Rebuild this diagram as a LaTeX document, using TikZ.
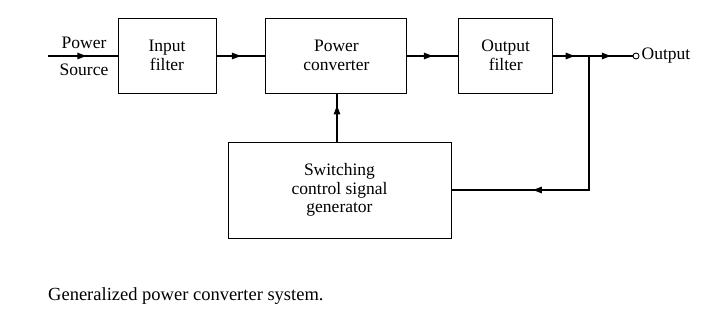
\documentclass[tikz,border=0pt]{standalone}
\usepackage{fontspec}
\setmainfont{Liberation Serif}
\usetikzlibrary{arrows.meta,positioning,calc,decorations.markings}

\begin{document}
\begin{tikzpicture}[
  x=1pt, y=-1pt,
  node distance=49pt,
  box/.style={rectangle, draw, line width=0.9pt, font=\fontsize{17.5}{18.5}\selectfont,
              inner sep=0pt, minimum height=75pt, align=center},
  sig/.style={line width=1.3pt, postaction={decorate}, decoration={markings,
              mark=at position #1 with {\arrow{Triangle[length=9pt,width=6.5pt]}}}},
  sig/.default=0.5,
  lbl/.style={font=\fontsize{17.5}{18.5}\selectfont, inner sep=0pt}
]
  \useasboundingbox (0,0) rectangle (720,318);
  \node[box, minimum width=98pt] (inf) at (167,55.5) {Input\\filter};
  \node[box, minimum width=141pt, right=49pt of inf] (conv) {Power\\converter};
  \node[box, minimum width=94pt, right=51pt of conv] (outf) {Output\\filter};
  \node[box, minimum width=223pt, minimum height=96pt] (gen) at (339.5,190)
        {Switching\\control signal\\generator};
  \coordinate (src) at (48,56);
  \coordinate (jn) at (589,56);
  \node[draw, circle, line width=0.9pt, inner sep=0pt, minimum size=6pt] (term) at (636,56) {};
  \node[lbl, right=2pt of term] (out) {Output};
  \node[lbl] (pw) at (84,43) {Power};
  \node[lbl] (srcl) at (84,70) {Source};
  \draw[sig=0.55] (src) -- (inf.west |- src);
  \draw[sig] (inf.east |- src) -- (conv.west |- src);
  \draw[sig] (conv.east |- src) -- (outf.west |- src);
  \draw[sig=0.6] (outf.east |- src) -- (jn);
  \draw[sig=0.5] (jn) -- (term.west);
  \draw[sig=0.75] (gen.north -| 337,0) -- (conv.south -| 337,0);
  \draw[sig=0.7] (jn) |- (gen.east);
  \node[lbl, anchor=base west, font=\fontsize{18.5}{20}\selectfont] (cap) at (48,300)
        {Generalized power converter system.};
\end{tikzpicture}
\end{document}
